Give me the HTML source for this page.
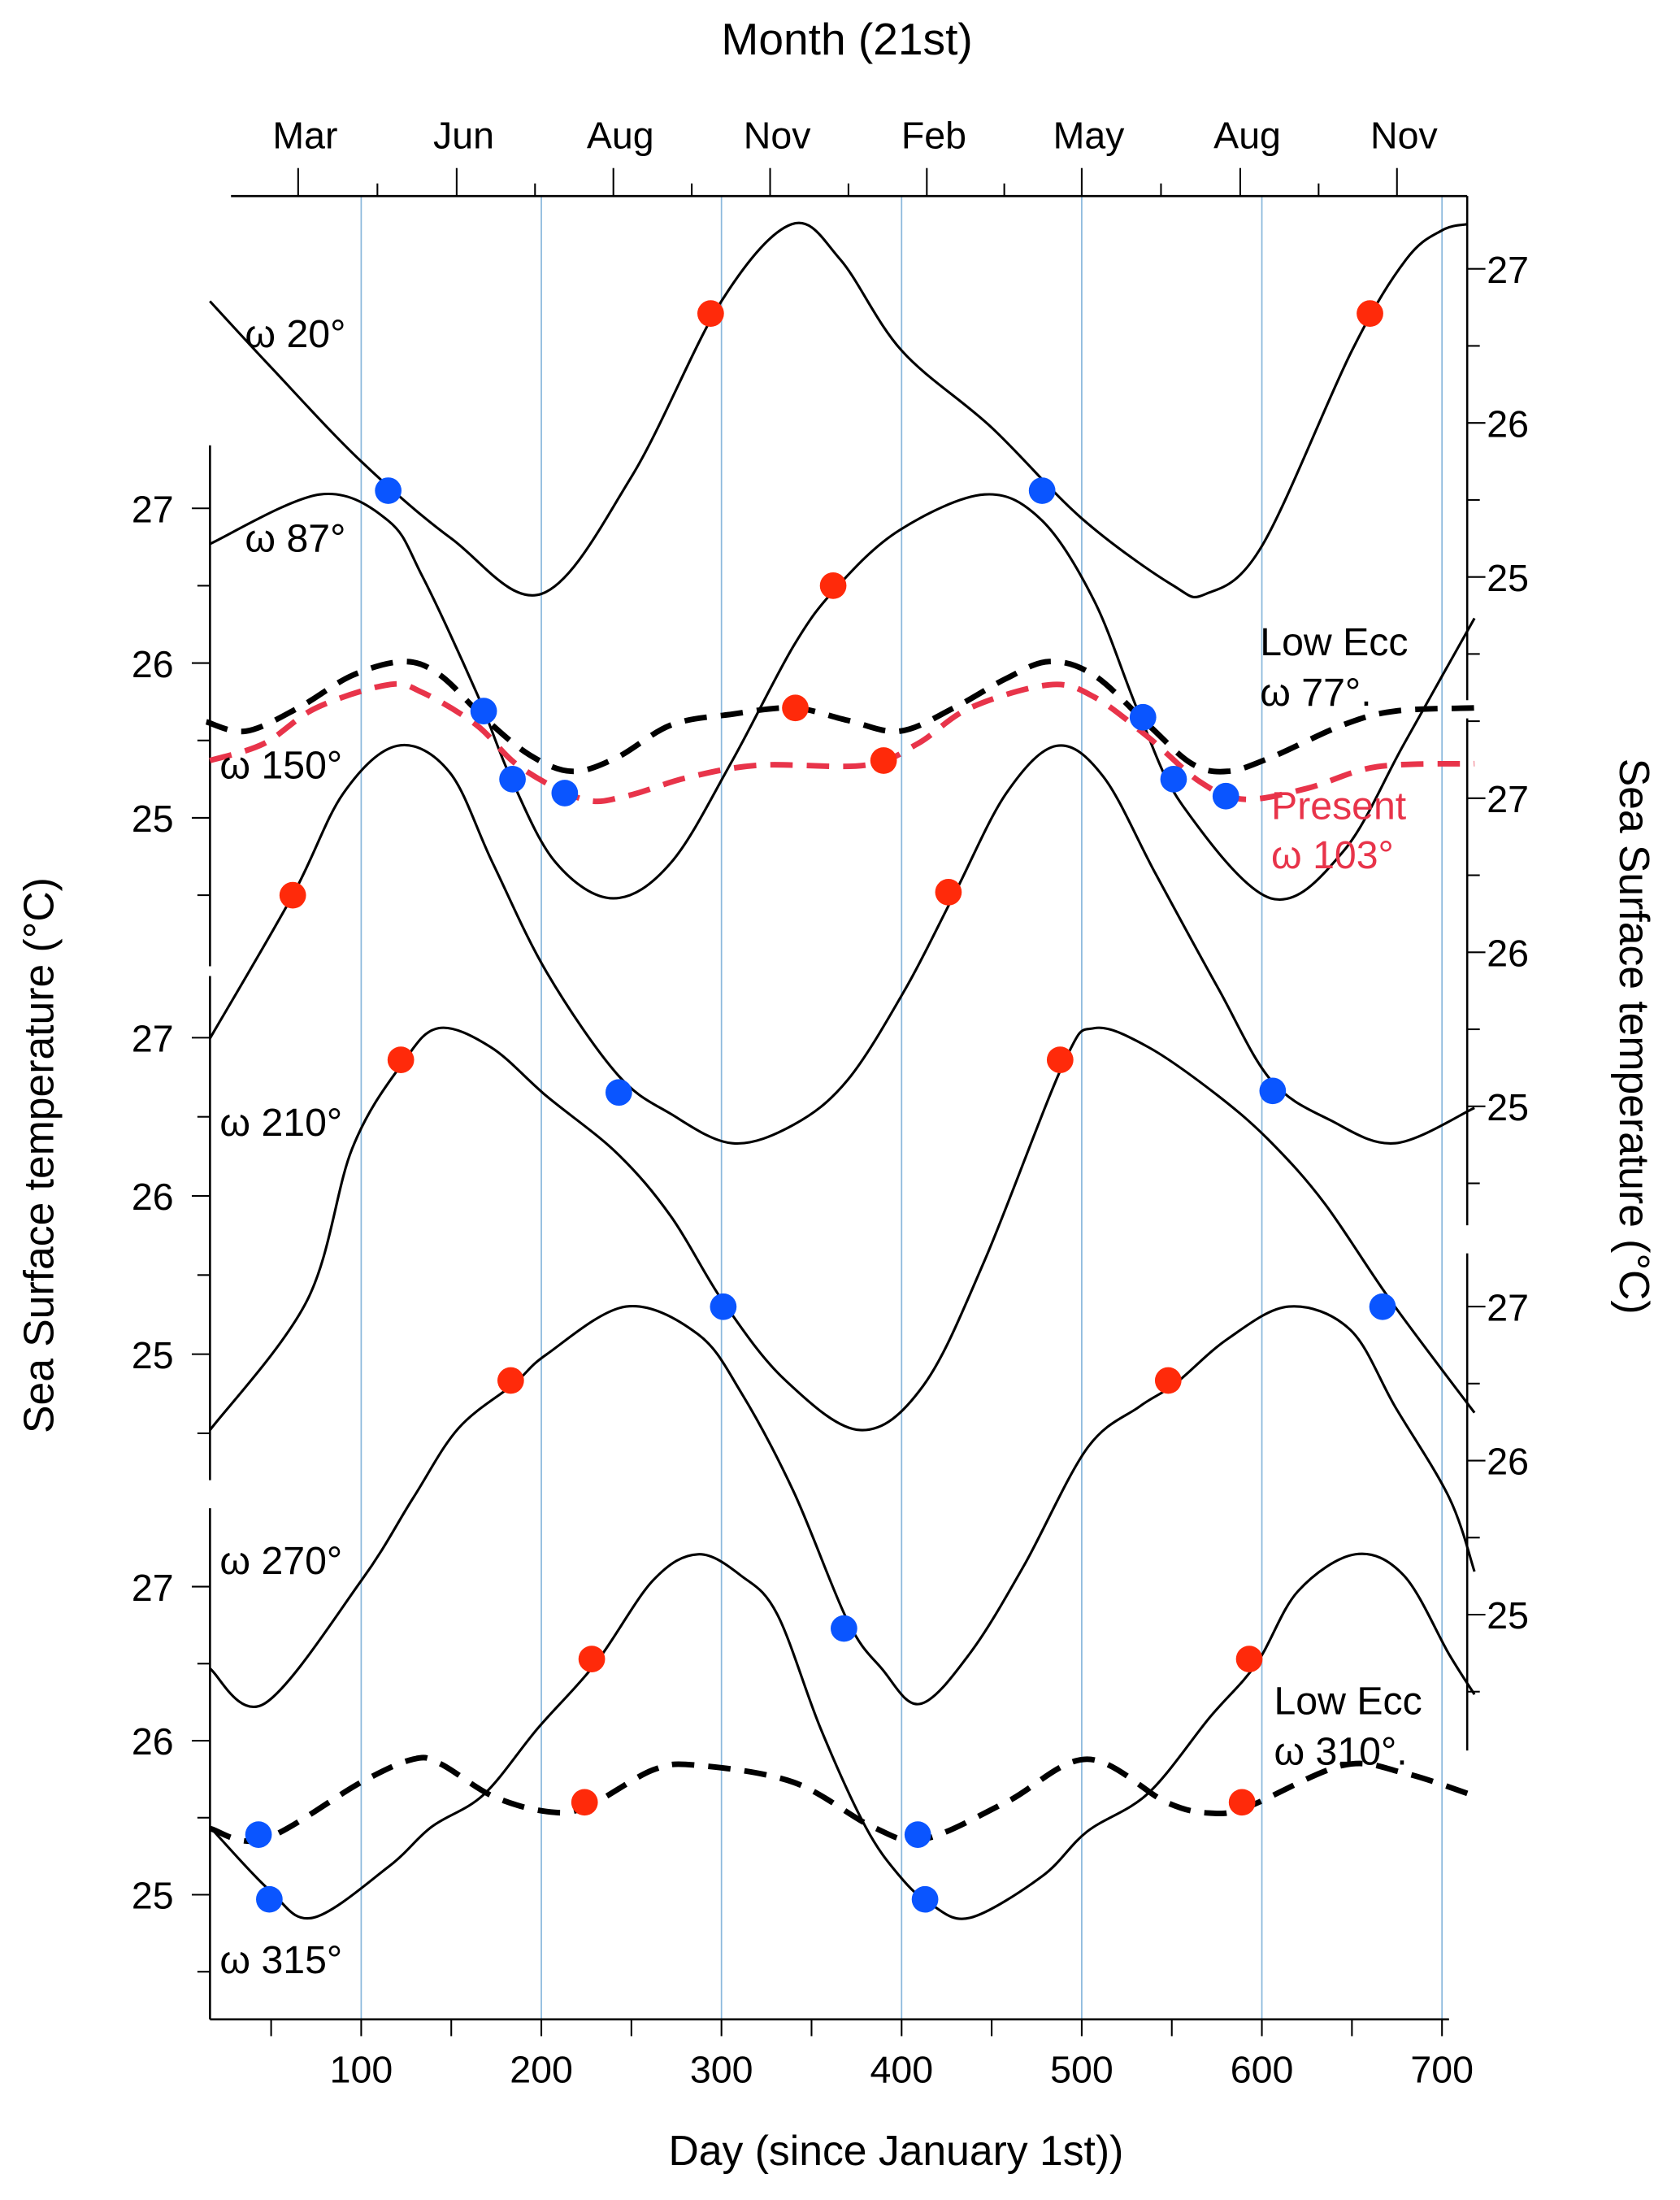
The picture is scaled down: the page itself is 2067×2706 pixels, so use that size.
<!DOCTYPE html>
<html><head><meta charset="utf-8"><style>
html,body{margin:0;padding:0;background:#fff;}
svg{display:block;font-family:"Liberation Sans",Arial,sans-serif;}
</style></head><body>
<svg id="chart" width="2067" height="2706" viewBox="0 0 1200 1571" preserveAspectRatio="none" xmlns="http://www.w3.org/2000/svg">
<rect width="1200" height="1571" fill="#fff"/>
<g id="grid"></g>
<g id="axes"></g>
<g id="series"></g>
<g id="marks"></g>
<text x="605" y="39" font-size="32" text-anchor="middle">Month (21st)</text>
<text x="640" y="1546" font-size="30" text-anchor="middle">Day (since  January 1st))</text>
<text transform="translate(38,825) rotate(-90)" font-size="30" text-anchor="middle">Sea Surface temperature (°C)</text>
<text transform="translate(1157,740) rotate(90)" font-size="30" text-anchor="middle">Sea Surface temperature (°C)</text>
<g font-size="28">
<text x="175" y="248">ω 20°</text>
<text x="175" y="394">ω 87°</text>
<text x="157" y="556">ω 150°</text>
<text x="157" y="811">ω 210°</text>
<text x="157" y="1124">ω 270°</text>
<text x="157" y="1409">ω 315°</text>
<text x="900" y="468">Low Ecc</text>
<text x="900" y="504">ω  77°.</text>
<text x="908" y="585" fill="#e8344a">Present</text>
<text x="908" y="620" fill="#e8344a">ω  103°</text>
<text x="910" y="1224">Low Ecc</text>
<text x="910" y="1260">ω  310°.</text>
</g>
</svg>
<script>
// ---- data ----
const dayTicks=[100,200,300,400,500,600,700];
const monthLabels=["Mar","Jun","Aug","Nov","Feb","May","Aug","Nov"];
const monthDays=[65,153,240,327,414,500,588,675];
const tempTicks=[27,26,25];
const w20Days=[16,50,100,150,200,250,300,339,366,400,450,500,550,569,600,650,680,700,714];
const w20Temp=[26.79,26.36,25.75,25.25,24.89,25.65,26.79,27.29,27.06,26.47,25.97,25.38,24.95,24.89,25.2,26.47,27.06,27.25,27.29];
const w87Days=[16,77,115,134,164,183,208,240,272,306,340,364,399,446,478,507,532,556,605,645,679,718];
const w87Temp=[26.77,27.09,26.92,26.56,25.81,25.26,24.71,24.48,24.71,25.37,26.11,26.49,26.86,27.09,26.92,26.4,25.67,25.08,24.48,24.78,25.48,26.29];
const ecc77Days=[14,36,65,95,124,144,168,193,217,242,272,306,340,370,399,429,458,482,507,537,561,581,605,645,674,718];
const ecc77Temp=[25.62,25.56,25.71,25.92,26.01,25.92,25.65,25.41,25.3,25.39,25.6,25.67,25.71,25.63,25.56,25.71,25.9,26.01,25.92,25.6,25.35,25.3,25.39,25.6,25.69,25.71];
const presDays=[16,46,75,115,134,164,188,223,247,281,321,380,409,438,482,507,537,566,590,625,664,718];
const presTemp=[25.37,25.48,25.71,25.86,25.81,25.6,25.33,25.12,25.14,25.26,25.34,25.34,25.48,25.71,25.86,25.78,25.52,25.23,25.12,25.19,25.33,25.35];
const w150Days=[16,62,90,120,149,173,203,242,272,306,340,370,402,429,458,486,512,541,576,605,638,674,718];
const w150Temp=[25.44,26.37,27.03,27.34,27.17,26.58,25.87,25.21,24.95,24.76,24.88,25.17,25.76,26.37,27.03,27.34,27.14,26.51,25.76,25.17,24.91,24.76,24.99];
const w210Days=[16,70,95,123,143,172,203,242,272,301,335,377,412,446,490,507,537,576,605,635,672,718];
const w210Temp=[24.52,25.34,26.3,26.84,27.06,26.94,26.63,26.27,25.87,25.33,24.84,24.52,24.8,25.59,26.84,27.06,26.94,26.63,26.34,25.95,25.33,24.63];
const w270Days=[16,46,100,129,154,185,203,247,287,311,340,370,389,410,438,468,503,532,552,581,615,649,674,704,718];
const w270Temp=[24.65,24.42,25.22,25.76,26.21,26.5,26.69,27.0,26.82,26.44,25.8,24.96,24.65,24.42,24.75,25.32,26.08,26.35,26.5,26.79,27.0,26.85,26.35,25.76,25.28];
const w315Days=[16,49,73,115,139,168,198,230,262,287,311,331,355,380,399,416,438,478,503,537,571,597,620,652,679,704,718];
const w315Temp=[25.44,25.03,24.85,25.18,25.44,25.65,26.08,26.5,27.04,27.21,27.07,26.82,26.08,25.44,25.12,24.94,24.85,25.12,25.41,25.66,26.15,26.5,26.97,27.21,27.07,26.56,26.3];
const ecc310Days=[16,46,100,129,144,173,203,225,262,287,340,384,412,458,503,547,571,592,645,679,716];
const ecc310Temp=[25.43,25.36,25.73,25.88,25.85,25.64,25.54,25.57,25.81,25.84,25.73,25.44,25.36,25.6,25.88,25.6,25.53,25.57,25.84,25.79,25.65];
// markers: [day, temp, axis, color]
const redDays=[294,660,362,341,390,62,426,122,488,183,548,228,593,224,589];
const redTemps=[26.71,26.71,26.5,25.71,25.37,26.37,26.39,26.86,26.86,26.52,26.52,26.53,26.53,25.6,25.6];
const redAxes=["R1","R1","L1","L1","L1","R2","R2","L2","L2","R3","R3","L3","L3","L3","L3"];
const blueDays=[115,478,168,184,213,534,551,580,243,606,301,667,368,49,413,43,409];
const blueTemps=[25.56,25.56,25.69,25.25,25.16,25.65,25.25,25.14,25.09,25.1,25.3,25.3,24.91,24.97,24.97,25.39,25.39];
const blueAxes=["R1","R1","L1","L1","L1","L1","L1","L1","R2","R2","L2","L2","R3","L3","L3","L3","L3"];

// ---- scales ----
const X=d=>258+(d-100)*1.28667;
const AX={L1:{y27:363,s:110.5},L2:{y27:741,s:113},L3:{y27:1133,s:110},R1:{y27:192,s:110},R2:{y27:570,s:110},R3:{y27:933,s:110}};
const Y=(t,a)=>AX[a].y27+(27-t)*AX[a].s;
const NS="http://www.w3.org/2000/svg";
function mk(tag,attrs,parent){const e=document.createElementNS(NS,tag);for(const k in attrs)e.setAttribute(k,attrs[k]);parent.appendChild(e);return e;}
const grid=document.getElementById('grid'),axes=document.getElementById('axes'),series=document.getElementById('series'),marks=document.getElementById('marks');

dayTicks.forEach(d=>{const l=mk('line',{x1:X(d),x2:X(d),y1:140,y2:1442,stroke:'#8ab8dc','stroke-width':1},grid);

});

// bottom axis
let bl=mk('line',{x1:150,x2:1035,y1:1442,y2:1442,stroke:'#000','stroke-width':1.5},axes);


for(let d=50;d<=700;d+=50){mk('line',{x1:X(d),x2:X(d),y1:1442,y2:1454,stroke:'#000','stroke-width':1.2},axes);}
dayTicks.forEach(d=>{const t=mk('text',{x:X(d),y:1487,'font-size':27,'text-anchor':'middle'},axes);t.textContent=d;

});
// top axis
let tl=mk('line',{x1:165,x2:1048,y1:140,y2:140,stroke:'#000','stroke-width':1.5},axes);


monthDays.forEach((d,i)=>{mk('line',{x1:X(d),x2:X(d),y1:140,y2:120,stroke:'#000','stroke-width':1.2},axes);
if(i<monthDays.length-1){const m=(d+monthDays[i+1])/2;mk('line',{x1:X(m),x2:X(m),y1:140,y2:131,stroke:'#000','stroke-width':1.2},axes);}
const t=mk('text',{x:X(d)+5,y:106,'font-size':27,'text-anchor':'middle'},axes);t.textContent=monthLabels[i];

});
// y axes segments
const segs=[['L1',318,690,150,-1],['L2',697,1057,150,-1],['L3',1077,1442,150,-1],['R1',140,500,1048,1],['R2',513,875,1048,1],['R3',895,1250,1048,1]];
segs.forEach(([a,y0,y1,x,dir])=>{const l=mk('line',{x1:x,x2:x,y1:y0,y2:y1,stroke:'#000','stroke-width':1.5},axes);


for(let t=28;t>=24;t-=0.5){const y=Y(t,a);if(y<y0+2||y>y1-2)continue;const major=Number.isInteger(t);
mk('line',{x1:x,x2:x+dir*(major?13:9),y1:y,y2:y,stroke:'#000','stroke-width':1.2},axes);}
tempTicks.forEach(t=>{const y=Y(t,a);const tx=mk('text',{x:dir<0?x-26:x+14,y:y+10,'font-size':27,'text-anchor':dir<0?'end':'start'},axes);tx.textContent=t;

});});

function smooth(pts){let d='M'+pts[0][0]+','+pts[0][1];for(let i=0;i<pts.length-1;i++){const p0=pts[i-1]||pts[i],p1=pts[i],p2=pts[i+1],p3=pts[i+2]||p2;
const c1=[p1[0]+(p2[0]-p0[0])/6,p1[1]+(p2[1]-p0[1])/6],c2=[p2[0]-(p3[0]-p1[0])/6,p2[1]-(p3[1]-p1[1])/6];
d+=' C'+c1[0].toFixed(1)+','+c1[1].toFixed(1)+' '+c2[0].toFixed(1)+','+c2[1].toFixed(1)+' '+p2[0].toFixed(1)+','+p2[1].toFixed(1);}return d;}
function curve(days,temps,a,name,style){const pts=days.map((d,i)=>[X(d),Y(temps[i],a)]);
const p=mk('path',Object.assign({d:smooth(pts),fill:'none'},style),series);

}
const solid={stroke:'#000','stroke-width':1.8};
curve(w20Days,w20Temp,'R1','curve-w20',solid);
curve(w87Days,w87Temp,'L1','curve-w87',solid);
curve(w150Days,w150Temp,'R2','curve-w150',solid);
curve(w210Days,w210Temp,'L2','curve-w210',solid);
curve(w270Days,w270Temp,'R3','curve-w270',solid);
curve(w315Days,w315Temp,'L3','curve-w315',solid);
curve(ecc77Days,ecc77Temp,'L1','curve-low-ecc-77',{stroke:'#000','stroke-width':4,'stroke-dasharray':'16 10'});
curve(presDays,presTemp,'L1','curve-present-103',{stroke:'#e8344a','stroke-width':4,'stroke-dasharray':'16 10'});
curve(ecc310Days,ecc310Temp,'L3','curve-low-ecc-310',{stroke:'#000','stroke-width':4,'stroke-dasharray':'16 10'});

redDays.forEach((d,i)=>{const c=mk('circle',{cx:X(d),cy:Y(redTemps[i],redAxes[i]),r:9.5,fill:'#ff2a0a'},marks);

});
blueDays.forEach((d,i)=>{const c=mk('circle',{cx:X(d),cy:Y(blueTemps[i],blueAxes[i]),r:9.5,fill:'#0a55ff'},marks);

});
</script>
</body></html>
